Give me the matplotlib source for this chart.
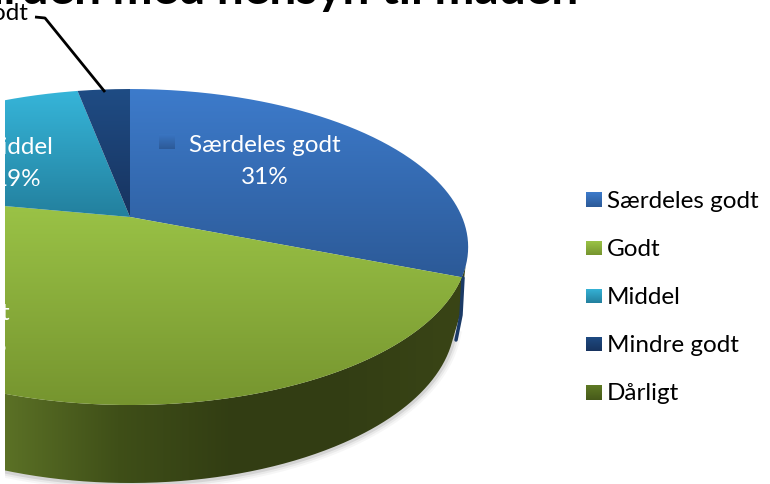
import numpy as np
import matplotlib
matplotlib.use('Agg')
import matplotlib.pyplot as plt
from matplotlib.path import Path
from matplotlib.patches import PathPatch, Rectangle

plt.rcParams['font.family'] = ['Lato', 'DejaVu Sans']

categories = ['Særdeles godt', 'Godt', 'Middel', 'Mindre godt', 'Dårligt']
values = [31, 47, 19, 3, 0]
pct_labels = ['31%', '47%', '19%', '3%', '0%']
title = 'Standarden med hensyn til maden'

# top / bottom colour of each slice
top_colors = ['#3d7bcb', '#9dc648', '#36b5d9', '#1f4c84', '#5f7a24']
bot_colors = ['#2c5a98', '#76952f', '#23809e', '#17335f', '#46591a']

# pixel geometry of the tilted disc
CX, CY = 130, 217
A, K, C = 332, 152.3, 0.19


def project(theta):
    # theta clockwise from the top of the disc, perspective squeezes the back
    u, v = np.sin(theta), np.cos(theta)
    d = 1 + C * v
    return CX + A * u / d, CY - K * v / d


def rgb(c):
    return np.array(matplotlib.colors.to_rgb(c))


def grad_fill(ax, path, c1, c2, extent, zorder=2):
    t = np.linspace(0, 1, 64)[:, None]
    img = ((1 - t) * rgb(c1) + t * rgb(c2))[:, None, :]
    im = ax.imshow(img, extent=extent, aspect='auto', interpolation='bilinear', zorder=zorder)
    im.set_clip_path(PathPatch(path, transform=ax.transData))
    return im


fig = plt.figure(figsize=(7.7, 4.84), dpi=100)
ax = fig.add_axes([0, 0, 1, 1])

# soft shadow below the disc
tt = np.linspace(0.1, np.pi, 300)
for w, al in [(9, 0.05), (6, 0.08), (3, 0.14)]:
    ax.plot(130 + 326 * np.cos(tt), 320 + 164 * np.sin(tt), color='#555555', lw=w, alpha=al, zorder=1)

# side wall, lower ellipse is a bit narrower than the top one
tt = np.linspace(0.12, np.pi * 0.75, 300)
low_x, low_y = 130 + 325 * np.cos(tt), 320 + 163 * np.sin(tt)
up_t = np.linspace(np.pi * 0.75, 0.12, 300)
up_x, up_y = 130 + 338 * np.cos(up_t), 247 + 158 * np.sin(up_t)
wall = Path(np.column_stack([np.r_[460, low_x, up_x], np.r_[315, low_y, up_y]]))
n = 5
stops = np.array([rgb('#5c7226'), rgb('#3f4f18'), rgb('#323d13'), rgb('#333e14'), rgb('#3a4516')])
wall_img = np.array([[np.interp(x, np.linspace(0, 1, n), stops[:, i]) for i in range(3)]
                     for x in np.linspace(0, 1, 128)])[None, :, :]
im = ax.imshow(wall_img, extent=(0, 468, 484, 0), aspect='auto', interpolation='bilinear', zorder=2)
im.set_clip_path(PathPatch(wall, transform=ax.transData))

# dark blue sliver of the hidden wall at far right
ax.plot([463, 461, 456], [278, 315, 340], color='#1b3a66', lw=2.5, zorder=2.5, solid_capstyle='round')

# top face, one wedge per value
start = 0.0
total = sum(values)
for val, c1, c2 in zip(values, top_colors, bot_colors):
    if val == 0:
        continue
    end = start + 2 * np.pi * val / total
    th = np.linspace(start, end, 200)
    x, y = project(th)
    verts = np.column_stack([np.r_[CX, x, CX], np.r_[CY, y, CY]])
    path = Path(verts)
    grad_fill(ax, path, c1, c2, (x.min() - 2, max(x.max(), CX) + 2, max(y.max(), CY), min(y.min(), CY)), zorder=3)
    start = end

# white strip on the left where the picture was cropped
ax.add_patch(Rectangle((0, 0), 5, 484, fc='white', ec='none', zorder=5))

clip_rect = Rectangle((5, 0), 765, 484, transform=ax.transData)

# labels on the slices
ax.text(265, 146, 'Særdeles godt', color='white', fontsize=17.5, ha='center', va='center', zorder=6)
ax.text(265, 178, pct_labels[0], color='white', fontsize=17.5, ha='center', va='center', zorder=6)
grad_fill(ax, Path([(159, 134), (175, 134), (175, 149), (159, 149), (159, 134)]),
          '#3a75c2', '#2c5a98', (159, 175, 149, 134), zorder=6)
tx = [ax.text(54, 147, 'Middel', color='white', fontsize=17.5, ha='right', va='center', zorder=6),
      ax.text(41, 179, pct_labels[2], color='white', fontsize=17.5, ha='right', va='center', zorder=6),
      ax.text(10, 314, 'Godt', color='white', fontsize=17.5, ha='right', va='center', zorder=6),
      ax.text(7, 346, pct_labels[1], color='white', fontsize=17.5, ha='right', va='center', zorder=6),
      ax.text(28, 13, 'Mindre godt', color='black', fontsize=17.5, ha='right', va='center', zorder=6)]
for t in tx:
    t.set_clip_path(clip_rect)

# leader line of the small slice
ax.plot([35, 45, 105], [17, 18, 92], color='black', lw=2, zorder=6, solid_capstyle='butt')

# title, cut by the upper edge
t = ax.text(578, 4, title, color='black', fontsize=34.5, fontweight='bold', ha='right', va='baseline', zorder=6)
t.set_clip_path(clip_rect)

# legend
leg_y = [199.5, 248, 296, 344, 392.5]
for name, yy, c1, c2 in zip(categories, leg_y, top_colors, bot_colors):
    ex = (586, 602, yy + 7.5, yy - 7.5)
    grad_fill(ax, Path([(586, yy - 7.5), (602, yy - 7.5), (602, yy + 7.5), (586, yy + 7.5), (586, yy - 7.5)]),
              c1, c2, ex, zorder=6)
    ax.text(607, yy + 1.5, name, color='black', fontsize=17.5, ha='left', va='center', zorder=6)

ax.set_xlim(0, 770)
ax.set_ylim(484, 0)
ax.axis('off')

plt.savefig('out.png', dpi=100)
